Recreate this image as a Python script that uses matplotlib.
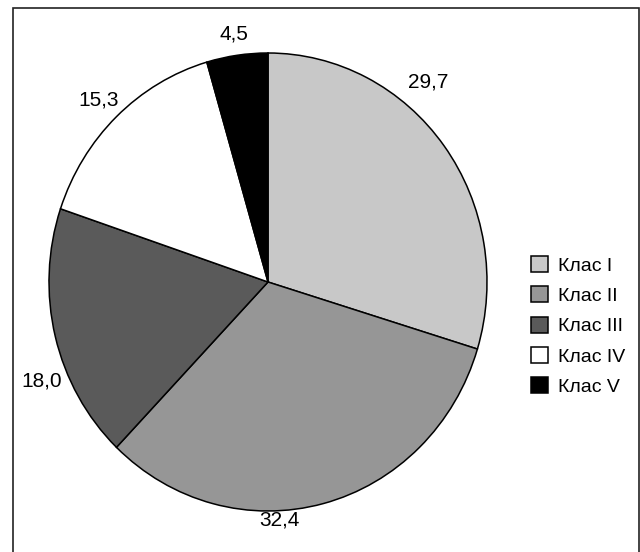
import matplotlib.pyplot as plt
from matplotlib.patches import Rectangle

classes = ["Клас I", "Клас II", "Клас III", "Клас IV", "Клас V"]
shares = [29.7, 32.4, 18.0, 15.3, 4.5]
labels = ["29,7", "32,4", "18,0", "15,3", "4,5"]

colors = ["#c8c8c8", "#969696", "#5a5a5a", "#ffffff", "#000000"]
# where each value label sits, in pie radius units
label_xy = [(0.731, 0.873), (0.050, -1.039), (-1.032, -0.432), (-0.772, 0.795), (-0.155, 1.083)]

plt.rcParams['font.family'] = ['Liberation Sans', 'DejaVu Sans']

fig = plt.figure(figsize=(6.4, 5.52), dpi=100)
ax = fig.add_axes([0, 0, 1, 1])

wedges, _ = ax.pie(shares, colors=colors, startangle=90, counterclock=False,
                   radius=1.0, wedgeprops=dict(edgecolor="black", linewidth=1.1))

for txt, (x, y) in zip(labels, label_xy):
    ax.text(x, y, txt, ha="center", va="center", fontsize=15)

# the pie is drawn a little narrower than it is tall
ax.set_aspect("auto")
ax.set_xlim(-268 / 219, 372 / 219)
ax.set_ylim(-270 / 229, 282 / 229)
ax.axis("off")

fig.legend(wedges, classes, loc="center left", bbox_to_anchor=(521 / 640, 1 - 326 / 552),
           frameon=False, fontsize=14, borderpad=0, handlelength=0.88, handleheight=0.88,
           handletextpad=0.5, labelspacing=0.6)

# open frame round the chart
fig.patches.append(Rectangle((12.5 / 640, -0.1), (638.5 - 12.5) / 640, 1.1 - 8 / 552,
                             transform=fig.transFigure, fill=False, edgecolor="#222222",
                             linewidth=1.2, clip_on=False))

fig.savefig("out.png", dpi=100)
